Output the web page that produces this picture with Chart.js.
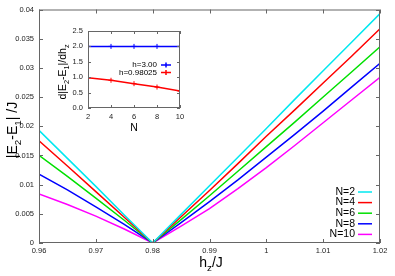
<!DOCTYPE html>
<html>
<head>
<meta charset="utf-8">
<script src="https://cdn.jsdelivr.net/npm/chart.js@4.4.1/dist/chart.umd.min.js"></script>
<style>
  body { margin: 0; background: #fff; }
  #wrap { position: relative; width: 395px; height: 276px; }
  #main { position: absolute; left: 0; top: 0; }
  #inset { position: absolute; left: 52px; top: 20px; }
</style>
</head>
<body>
<div id="wrap">
  <canvas id="main" width="395" height="276"></canvas>
  <canvas id="inset" width="140" height="122"></canvas>
</div>
<script>
const FONT = '"Liberation Sans", Arial, sans-serif';

// main plot data
const hz = [0.96, 0.965, 0.97, 0.975, 0.98, 0.985, 0.99, 0.995, 1.0, 1.005, 1.01, 1.015, 1.02];
const gapN2  = [0.0193, 0.0145, 0.0097, 0.0048, 0, 0.0049, 0.0098, 0.0147, 0.0196, 0.0246, 0.0295, 0.0344, 0.0393];
const gapN4  = [0.0175, 0.0132, 0.0088, 0.0044, 0, 0.0045, 0.0090, 0.0136, 0.0183, 0.0228, 0.0274, 0.0320, 0.0367];
const gapN6  = [0.0150, 0.0114, 0.0077, 0.0039, 0, 0.0040, 0.0081, 0.0123, 0.0165, 0.0207, 0.0250, 0.0293, 0.0336];
const gapN8  = [0.0118, 0.0091, 0.0062, 0.0032, 0, 0.0035, 0.0071, 0.0108, 0.0147, 0.0186, 0.0226, 0.0267, 0.0308];
const gapN10 = [0.0084, 0.0066, 0.0046, 0.0024, 0, 0.0029, 0.0059, 0.0093, 0.0129, 0.0167, 0.0206, 0.0245, 0.0284];
const mainLabels = ['N=2', 'N=4', 'N=6', 'N=8', 'N=10'];
const mainColors = ['#00e8f0', '#ff0000', '#00e000', '#0000ff', '#ff00ff'];

// inset data
const sizes = [2, 4, 6, 8, 10];
const slopeH300 = [2.0, 2.0, 2.0, 2.0, 2.0];
const slopeH098 = [0.98, 0.90, 0.79, 0.68, 0.55];
const insetLabels = ['h=3.00', 'h=0.98025'];
const insetColors = ['#0000ff', '#ff0000'];

function pairs(xs, ys) {
  return xs.map((x, i) => ({ x: x, y: ys[i] }));
}

function fmt(v) {
  return String(+v.toFixed(4));
}

// gnuplot style box with inward ticks on all four sides
const boxPlugin = {
  id: 'box',
  afterDraw(chart) {
    const { ctx, chartArea: a, scales } = chart;
    const len = chart.canvas.id === 'main' ? 4 : 3;
    ctx.save();
    ctx.strokeStyle = '#666';
    ctx.lineWidth = 1;
    ctx.strokeRect(a.left + 0.5, a.top + 0.5, a.right - a.left - 1, a.bottom - a.top - 1);
    ctx.beginPath();
    for (const t of scales.x.ticks) {
      const px = Math.round(scales.x.getPixelForValue(t.value)) + 0.5;
      ctx.moveTo(px, a.bottom); ctx.lineTo(px, a.bottom - len);
      ctx.moveTo(px, a.top); ctx.lineTo(px, a.top + len);
    }
    for (const t of scales.y.ticks) {
      const py = Math.round(scales.y.getPixelForValue(t.value)) + 0.5;
      ctx.moveTo(a.left, py); ctx.lineTo(a.left + len, py);
      ctx.moveTo(a.right, py); ctx.lineTo(a.right - len, py);
    }
    ctx.stroke();
    ctx.restore();
  }
};

// draws text pieces with subscripts, starting at x (left aligned)
function drawRich(ctx, parts, x, y, size) {
  let cx = x;
  for (const p of parts) {
    const s = p.sub ? size * 0.7 : size;
    ctx.font = s + 'px ' + FONT;
    ctx.fillText(p.t, cx, p.sub ? y + size * 0.3 : y);
    cx += ctx.measureText(p.t).width;
  }
}

function richWidth(ctx, parts, size) {
  let w = 0;
  for (const p of parts) {
    ctx.font = (p.sub ? size * 0.7 : size) + 'px ' + FONT;
    w += ctx.measureText(p.t).width;
  }
  return w;
}

function titlesPlugin(xParts, yParts, size, xPos, yPos) {
  return {
    id: 'titles',
    afterDraw(chart) {
      const ctx = chart.ctx;
      ctx.save();
      ctx.fillStyle = '#000';
      ctx.textBaseline = 'alphabetic';
      ctx.textAlign = 'left';
      const wx = richWidth(ctx, xParts, size);
      drawRich(ctx, xParts, xPos[0] - wx / 2, xPos[1], size);
      const wy = richWidth(ctx, yParts, size);
      ctx.translate(yPos[0], yPos[1]);
      ctx.rotate(-Math.PI / 2);
      drawRich(ctx, yParts, -wy / 2, 0, size);
      ctx.restore();
    }
  };
}

// legend: label right aligned, line sample to the right
function legendPlugin(opts) {
  return {
    id: 'keys',
    afterDraw(chart) {
      const ctx = chart.ctx;
      ctx.save();
      ctx.font = opts.size + 'px ' + FONT;
      ctx.textAlign = 'right';
      ctx.textBaseline = 'middle';
      chart.data.datasets.forEach((ds, i) => {
        const y = opts.y + i * opts.step;
        ctx.fillStyle = '#000';
        ctx.fillText(ds.label, opts.textRight, y);
        ctx.strokeStyle = ds.borderColor;
        ctx.lineWidth = 1.5;
        ctx.beginPath();
        ctx.moveTo(opts.lineFrom, y); ctx.lineTo(opts.lineTo, y);
        if (opts.marker) {
          const m = (opts.lineFrom + opts.lineTo) / 2;
          ctx.moveTo(m, y - 2.5); ctx.lineTo(m, y + 2.5);
        }
        ctx.stroke();
      });
      ctx.restore();
    }
  };
}

const mainSeries = [gapN2, gapN4, gapN6, gapN8, gapN10];

new Chart(document.getElementById('main'), {
  type: 'line',
  data: {
    datasets: mainSeries.map((s, i) => ({
      label: mainLabels[i],
      data: pairs(hz, s),
      borderColor: mainColors[i],
      borderWidth: 1.5,
      pointRadius: 0,
      tension: 0,
      fill: false
    }))
  },
  options: {
    responsive: false,
    animation: false,
    layout: { padding: { left: 0, top: 9, right: 15, bottom: 0 } },
    plugins: { legend: { display: false }, tooltip: { enabled: false } },
    scales: {
      x: {
        type: 'linear', min: 0.96, max: 1.02,
        grid: { display: false, drawTicks: false },
        border: { display: false },
        ticks: { stepSize: 0.01, padding: 3, color: '#222', font: { size: 7.5, family: FONT }, callback: fmt, maxRotation: 0 },
        afterFit(s) { s.height = 33; }
      },
      y: {
        type: 'linear', min: 0, max: 0.04,
        grid: { display: false, drawTicks: false },
        border: { display: false },
        ticks: { stepSize: 0.005, padding: 5, color: '#222', font: { size: 7.5, family: FONT }, callback: fmt },
        afterFit(s) { s.width = 39; }
      }
    }
  },
  plugins: [
    boxPlugin,
    titlesPlugin(
      [{ t: 'h' }, { t: 'z', sub: true }, { t: '/J' }],
      [{ t: '|E' }, { t: '2', sub: true }, { t: '-E' }, { t: '1', sub: true }, { t: '| /J' }],
      14, [211, 267], [17, 130]
    ),
    legendPlugin({ size: 10.5, y: 192, step: 10.6, textRight: 355, lineFrom: 358, lineTo: 372 })
  ]
});

new Chart(document.getElementById('inset'), {
  type: 'line',
  data: {
    datasets: [
      { label: insetLabels[0], data: pairs(sizes, slopeH300), borderColor: insetColors[0], backgroundColor: insetColors[0] },
      { label: insetLabels[1], data: pairs(sizes, slopeH098), borderColor: insetColors[1], backgroundColor: insetColors[1] }
    ].map(d => Object.assign(d, { borderWidth: 1.5, pointStyle: 'cross', pointRadius: 2.5, pointBorderWidth: 1, fill: false }))
  },
  options: {
    responsive: false,
    animation: false,
    layout: { padding: { left: 0, top: 11, right: 12, bottom: 0 } },
    plugins: { legend: { display: false }, tooltip: { enabled: false } },
    scales: {
      x: {
        type: 'linear', min: 2, max: 10,
        grid: { display: false, drawTicks: false },
        border: { display: false },
        ticks: { stepSize: 2, padding: 4, color: '#222', font: { size: 7.5, family: FONT }, maxRotation: 0 },
        afterFit(s) { s.height = 34; }
      },
      y: {
        type: 'linear', min: 0, max: 2.5,
        grid: { display: false, drawTicks: false },
        border: { display: false },
        ticks: { stepSize: 0.5, padding: 5, color: '#222', font: { size: 7.5, family: FONT }, callback: v => v.toFixed(1) },
        afterFit(s) { s.width = 36; }
      }
    }
  },
  plugins: [
    {
      id: 'whiteBg',
      beforeDraw(chart) {
        const ctx = chart.ctx;
        ctx.save();
        ctx.fillStyle = '#fff';
        ctx.fillRect(0, 0, chart.width, chart.height);
        ctx.restore();
      }
    },
    boxPlugin,
    titlesPlugin(
      [{ t: 'N' }],
      [{ t: 'd|E' }, { t: '2', sub: true }, { t: '-E' }, { t: '1', sub: true }, { t: '|/dh' }, { t: 'z', sub: true }],
      10.5, [82, 111], [14, 52]
    ),
    legendPlugin({ size: 8, y: 45, step: 7.5, textRight: 105, lineFrom: 109, lineTo: 119, marker: true })
  ]
});
</script>
</body>
</html>
